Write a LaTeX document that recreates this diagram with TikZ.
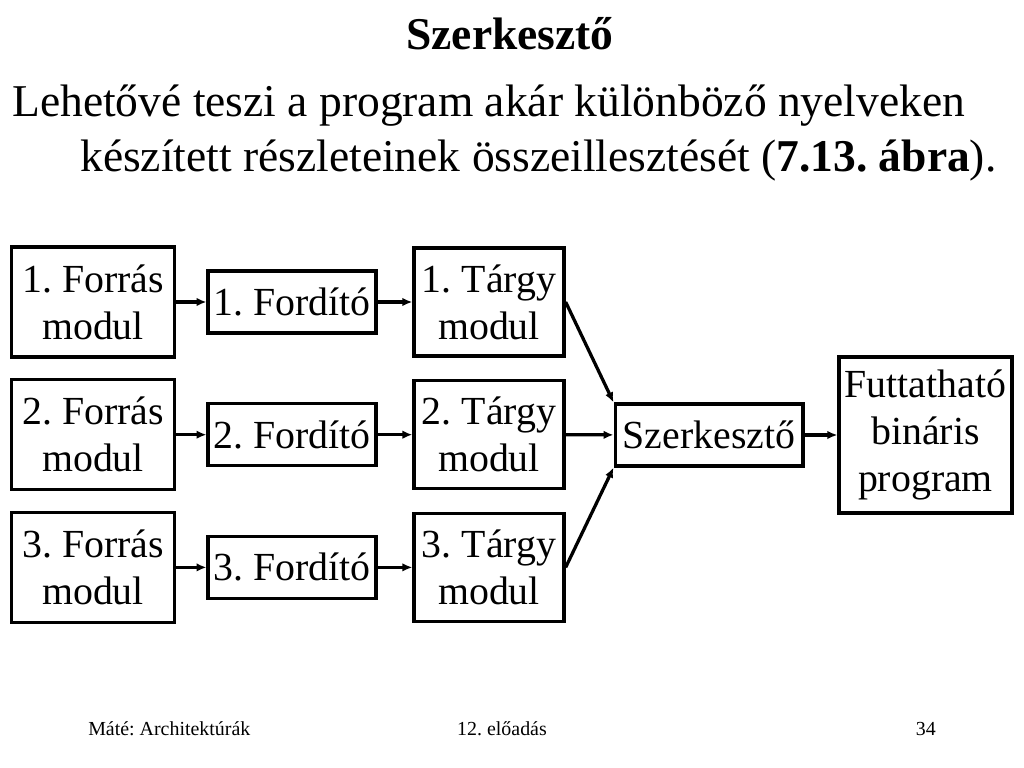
\documentclass[tikz,border=0pt]{standalone}
\usepackage{fontspec}
\setmainfont{Liberation Serif}
\frenchspacing
\usetikzlibrary{arrows,arrows.meta,positioning}
\tikzstyle{forras} = [rectangle, minimum width=114.6pt, minimum height=77.3pt, inner sep=0pt, align=center, draw=black, line width=2.3pt, font=\fontsize{28}{33}\selectfont]
\tikzstyle{fordito} = [rectangle, minimum width=118pt, minimum height=43.6pt, inner sep=0pt, align=center, draw=black, line width=2.3pt, font=\fontsize{28}{33}\selectfont]
\tikzstyle{targy} = [rectangle, minimum width=105.5pt, minimum height=76pt, inner sep=0pt, align=center, draw=black, line width=2.3pt, font=\fontsize{28}{33}\selectfont]
\tikzstyle{szerk} = [rectangle, minimum width=132pt, minimum height=43.6pt, inner sep=0pt, align=center, draw=black, line width=2.3pt, font=\fontsize{28}{33}\selectfont]
\tikzstyle{futt} = [rectangle, minimum width=121.6pt, minimum height=109.7pt, inner sep=0pt, align=center, draw=black, line width=2.3pt, font=\fontsize{28}{33}\selectfont]
\tikzstyle{arrow} = [line width=2.3pt,-{Latex[length=7pt,width=6pt]}]
\tikzstyle{footer} = [inner sep=0pt, font=\fontsize{14}{17}\selectfont]
\begin{document}
\begin{tikzpicture}[x=0.703125pt, y=-0.703125pt, node distance=93.3pt]
	\useasboundingbox (0,0) rectangle (1024,768);
	
	\node (title) [anchor=base, inner sep=0pt, font=\fontsize{32}{38}\bfseries] at (510,50) {Szerkesztő};
	\node (line1) [anchor=base west, inner sep=0pt, font=\fontsize{32}{38}\selectfont] at (12,117) {Lehetővé teszi a program akár különböző nyelveken};
	\node (line2) [anchor=base west, inner sep=0pt, font=\fontsize{32}{38}\selectfont] at (80,172) {készített részleteinek összeillesztését (\textbf{7.13. ábra}).};
	
	\node (f1) [forras] at (93,302) {1. Forrás\\modul};
	\node (f2) [forras, below of=f1] {2. Forrás\\modul};
	\node (f3) [forras, below of=f2] {3. Forrás\\modul};
	
	\node (c1) [fordito] at (292,302) {1. Fordító};
	\node (c2) [fordito, below of=c1] {2. Fordító};
	\node (c3) [fordito, below of=c2] {3. Fordító};
	
	\node (t1) [targy] at (489,302) {1. Tárgy\\modul};
	\node (t2) [targy, below of=t1] {2. Tárgy\\modul};
	\node (t3) [targy, below of=t2] {3. Tárgy\\modul};
	
	\node (szerk) [szerk] at (709,435) {Szerkesztő};
	
	\node (futt) [futt] at (925.5,435) {Futtatható\\bináris\\program};
	
	\node (nev) [footer, anchor=base west] at (88,735) {Máté: Architektúrák};
	\node (elo) [footer, anchor=base] at (502,735) {12. előadás};
	\node (lap) [footer, anchor=base east] at (936,735) {34};
	
	%
	
	\draw[arrow] (f1) -- (c1);
	\draw[arrow] (f2) -- (c2);
	\draw[arrow] (f3) -- (c3);
	\draw[arrow] (c1) -- (t1);
	\draw[arrow] (c2) -- (t2);
	\draw[arrow] (c3) -- (t3);
	\draw[arrow] (t1.east) -- (szerk.north west);
	\draw[arrow] (t2) -- (szerk);
	\draw[arrow] (t3.east) -- (szerk.south west);
	\draw[arrow] (szerk) -- (futt);
	
\end{tikzpicture}
\end{document}
